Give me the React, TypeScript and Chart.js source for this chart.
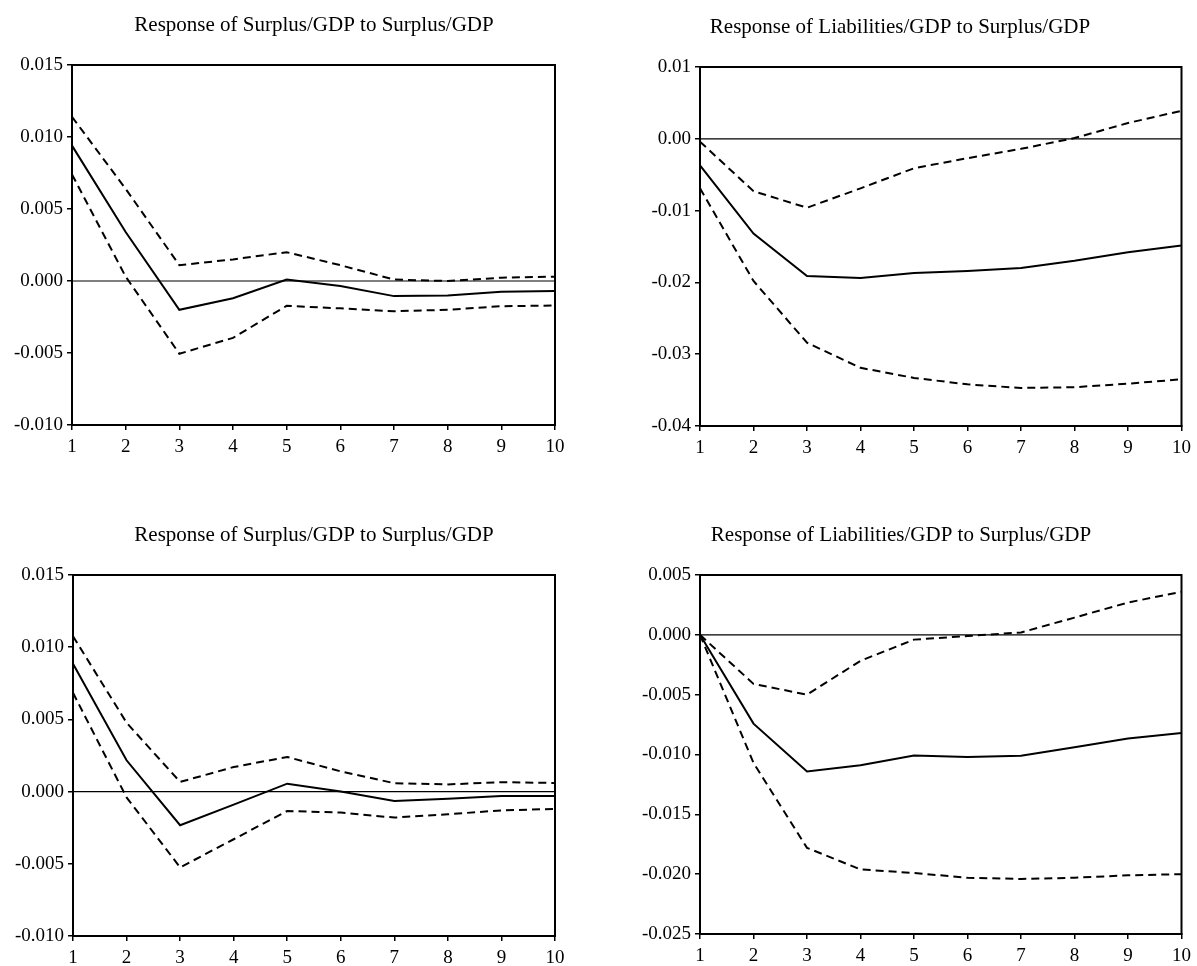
import React, { useEffect, useRef } from "react";
import { Chart, registerables } from "chart.js";

Chart.register(...registerables);

// ---------- data ----------
const periods = ["1", "2", "3", "4", "5", "6", "7", "8", "9", "10"];

const tlTitle = "Response of Surplus/GDP to Surplus/GDP";
const tlResponse = [0.0094, 0.0034, -0.002, -0.0012, 0.0001, -0.00035, -0.00105, -0.001, -0.00075, -0.0007];
const tlUpper = [0.0114, 0.0064, 0.0011, 0.0015, 0.002, 0.0011, 0.0001, 0.0, 0.00023, 0.0003];
const tlLower = [0.0074, 0.0003, -0.00505, -0.00395, -0.00172, -0.0019, -0.0021, -0.002, -0.00175, -0.0017];
const tlYTicks = ["-0.010", "-0.005", "0.000", "0.005", "0.010", "0.015"];

const trTitle = "Response of Liabilities/GDP to Surplus/GDP";
const trResponse = [-0.0037, -0.0132, -0.0191, -0.0194, -0.0187, -0.0184, -0.018, -0.017, -0.0158, -0.01485];
const trUpper = [-0.0004, -0.0073, -0.0096, -0.0069, -0.0041, -0.0027, -0.0014, 0.0001, 0.0022, 0.0039];
const trLower = [-0.0069, -0.0198, -0.0284, -0.0319, -0.0333, -0.0342, -0.0347, -0.0346, -0.0341, -0.0335];
const trYTicks = ["-0.04", "-0.03", "-0.02", "-0.01", "0.00", "0.01"];

const blTitle = "Response of Surplus/GDP to Surplus/GDP";
const blResponse = [0.00885, 0.00217, -0.00233, -0.0009, 0.00055, 0.0, -0.00065, -0.0005, -0.0003, -0.0003];
const blUpper = [0.01076, 0.00477, 0.00067, 0.0017, 0.0024, 0.0014, 0.00058, 0.0005, 0.00065, 0.0006];
const blLower = [0.00684, -0.0004, -0.00525, -0.0033, -0.00134, -0.00145, -0.0018, -0.00157, -0.0013, -0.0012];
const blYTicks = ["-0.010", "-0.005", "0.000", "0.005", "0.010", "0.015"];

const brTitle = "Response of Liabilities/GDP to Surplus/GDP";
const brResponse = [0.0, -0.00742, -0.01142, -0.0109, -0.01008, -0.0102, -0.0101, -0.0094, -0.00867, -0.0082];
const brUpper = [0.0, -0.0041, -0.005, -0.00217, -0.0004, -0.0001, 0.0002, 0.00144, 0.0027, 0.0036];
const brLower = [0.0, -0.0107, -0.0178, -0.0196, -0.0199, -0.0203, -0.0204, -0.0203, -0.0201, -0.02];
const brYTicks = ["-0.025", "-0.020", "-0.015", "-0.010", "-0.005", "0.000", "0.005"];

// ---------- layout ----------
type Panel = {
  title: string;
  response: number[];
  upper: number[];
  lower: number[];
  yTicks: string[];
  yMin: number;
  yMax: number;
  yStep: number;
  canvas: { left: number; top: number; width: number; height: number };
  area: { left: number; top: number; right: number; bottom: number };
  titlePos: { x: number; y: number };
};

const panels: Panel[] = [
  {
    title: tlTitle, response: tlResponse, upper: tlUpper, lower: tlLower, yTicks: tlYTicks,
    yMin: -0.01, yMax: 0.015, yStep: 0.005,
    canvas: { left: 0, top: 0, width: 598, height: 483 },
    area: { left: 72, top: 65, right: 555, bottom: 425 },
    titlePos: { x: 314, y: 25 },
  },
  {
    title: trTitle, response: trResponse, upper: trUpper, lower: trLower, yTicks: trYTicks,
    yMin: -0.04, yMax: 0.01, yStep: 0.01,
    canvas: { left: 598, top: 0, width: 599, height: 483 },
    area: { left: 700, top: 67, right: 1183, bottom: 426 },
    titlePos: { x: 900, y: 27 },
  },
  {
    title: blTitle, response: blResponse, upper: blUpper, lower: blLower, yTicks: blYTicks,
    yMin: -0.01, yMax: 0.015, yStep: 0.005,
    canvas: { left: 0, top: 483, width: 598, height: 483 },
    area: { left: 73, top: 575, right: 555, bottom: 936 },
    titlePos: { x: 314, y: 535 },
  },
  {
    title: brTitle, response: brResponse, upper: brUpper, lower: brLower, yTicks: brYTicks,
    yMin: -0.025, yMax: 0.005, yStep: 0.005,
    canvas: { left: 598, top: 483, width: 599, height: 483 },
    area: { left: 700, top: 575, right: 1183, bottom: 934 },
    titlePos: { x: 901, y: 535 },
  },
];

const FONT = '"Liberation Serif", "Times New Roman", serif';

const framePlugin = {
  id: "frame",
  beforeDatasetsDraw(chart: any) {
    const { ctx, chartArea } = chart;
    const y0 = chart.scales.y.getPixelForValue(0);
    ctx.save();
    ctx.strokeStyle = "#000";
    ctx.lineWidth = 1.2;
    ctx.beginPath();
    ctx.moveTo(chartArea.left, y0);
    ctx.lineTo(chartArea.right, y0);
    ctx.stroke();
    ctx.restore();
  },
  afterDatasetsDraw(chart: any) {
    const { ctx, chartArea } = chart;
    ctx.save();
    ctx.strokeStyle = "#000";
    ctx.lineWidth = 2;
    ctx.strokeRect(chartArea.left, chartArea.top, chartArea.right - chartArea.left, chartArea.bottom - chartArea.top);
    ctx.restore();
  },
  afterDraw(chart: any) {
    const o = chart.options.plugins.frame;
    if (!o) return;
    const { ctx } = chart;
    ctx.save();
    ctx.fillStyle = "#000";
    ctx.font = `21px ${FONT}`;
    ctx.textAlign = "center";
    ctx.textBaseline = "middle";
    ctx.fillText(o.text, o.x, o.y);
    ctx.restore();
  },
};

function PanelChart({ p }: { p: Panel }) {
  const ref = useRef<HTMLCanvasElement | null>(null);
  useEffect(() => {
    if (!ref.current) return;
    const c = p.canvas;
    const a = p.area;
    const yWidth = a.left - c.left;
    const xHeight = c.top + c.height - a.bottom;
    const labelFor = (v: number) => {
      const f = p.yTicks.find((l) => Math.abs(parseFloat(l) - v) < p.yStep / 10);
      return f ?? "";
    };
    const chart = new Chart(ref.current, {
      type: "line",
      data: {
        labels: periods,
        datasets: [
          { data: p.response, borderColor: "#000", borderWidth: 2, pointRadius: 0, tension: 0, fill: false },
          { data: p.upper, borderColor: "#000", borderWidth: 2, borderDash: [8, 5], pointRadius: 0, tension: 0, fill: false },
          { data: p.lower, borderColor: "#000", borderWidth: 2, borderDash: [8, 5], pointRadius: 0, tension: 0, fill: false },
        ],
      },
      options: {
        responsive: false,
        animation: false,
        events: [],
        layout: {
          padding: { top: a.top - c.top, right: c.left + c.width - a.right, left: 0, bottom: 0 },
        },
        plugins: {
          legend: { display: false },
          tooltip: { enabled: false },
          title: { display: false },
          frame: { text: p.title, x: p.titlePos.x - c.left, y: p.titlePos.y - c.top },
        } as any,
        scales: {
          x: {
            type: "category",
            offset: false,
            border: { display: true, color: "#000", width: 2 },
            grid: { display: true, drawOnChartArea: false, drawTicks: true, tickLength: 5, color: "#000", lineWidth: 1.5 },
            ticks: { color: "#000", font: { family: FONT, size: 19 }, padding: 6, maxRotation: 0, autoSkip: false },
            afterFit: (s: any) => { s.height = xHeight; },
          },
          y: {
            type: "linear",
            min: p.yMin,
            max: p.yMax,
            border: { display: true, color: "#000", width: 2 },
            grid: { display: true, drawOnChartArea: false, drawTicks: true, tickLength: 5, color: "#000", lineWidth: 1.5 },
            ticks: {
              stepSize: p.yStep,
              color: "#000",
              font: { family: FONT, size: 19 },
              padding: 4,
              callback: (v: any) => labelFor(Number(v)),
            },
            afterFit: (s: any) => { s.width = yWidth; },
          },
        },
      },
      plugins: [framePlugin],
    } as any);
    return () => chart.destroy();
  }, [p]);
  return (
    <canvas
      ref={ref}
      width={p.canvas.width}
      height={p.canvas.height}
      style={{ position: "absolute", left: p.canvas.left, top: p.canvas.top, width: p.canvas.width, height: p.canvas.height }}
    />
  );
}

export default function App() {
  return (
    <div style={{ position: "absolute", left: 0, top: 0, width: 1197, height: 966, background: "#fff" }}>
      {panels.map((p, i) => (
        <PanelChart key={i} p={p} />
      ))}
    </div>
  );
}
